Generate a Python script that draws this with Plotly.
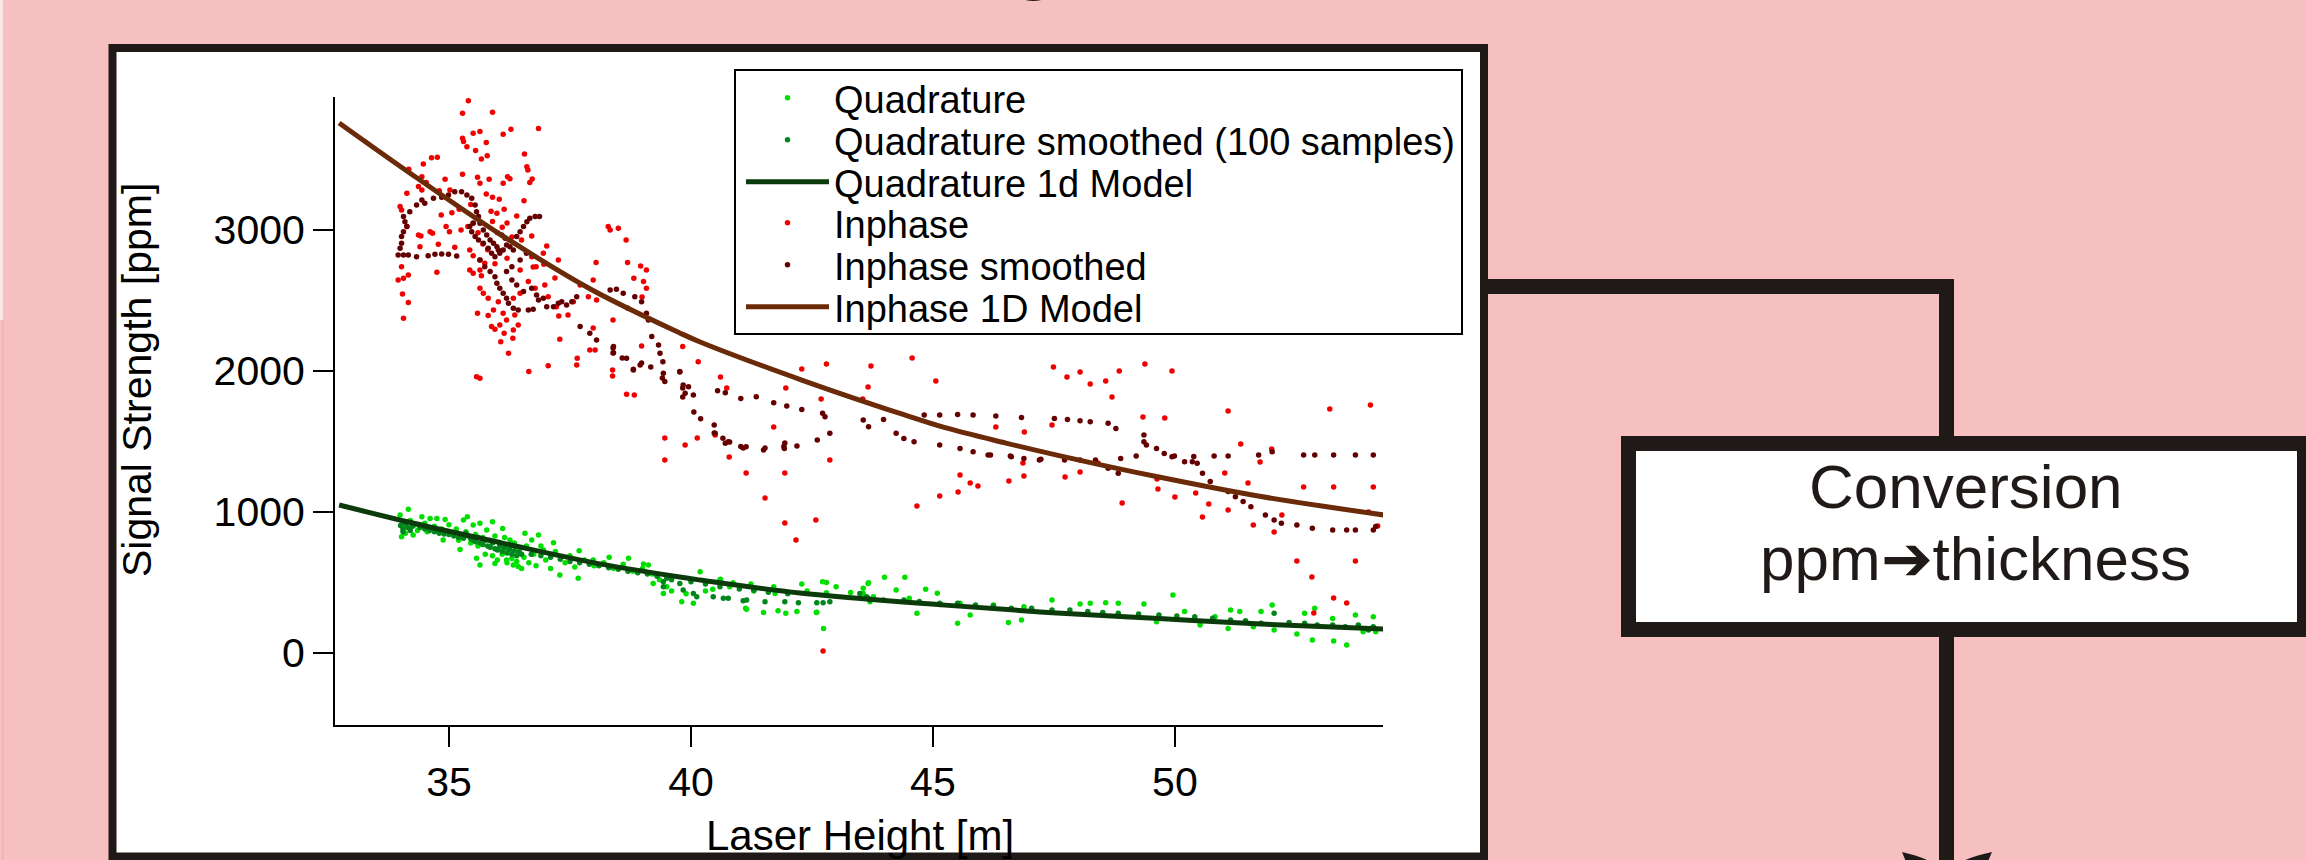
import plotly.graph_objects as go

W, H = 2306, 860

# ---------------- data ----------------
model_x = [32.73, 34.25, 36.10, 37.93, 39.77, 40.19, 42.29, 44.40, 45.25, 46.51, 47.56, 49.67, 51.78, 54.32]
inphase_model_y = [3759, 3390, 2960, 2580, 2270, 2206, 1936, 1690, 1598, 1489, 1404, 1248, 1110, 979]
quad_model_x = [32.73, 34.25, 36.10, 37.93, 39.77, 40.19, 42.25, 45.25, 47.56, 49.67, 51.78, 54.32]
quad_model_y = [1050, 922, 780, 645, 539, 518, 426, 340, 284, 245, 206, 170]

inphase_x = [35.40, 35.28, 35.90, 35.50, 35.64, 35.28, 35.30, 36.12, 36.28, 36.85, 35.77, 35.37, 35.55, 35.67,
             35.79, 36.56, 36.61, 36.63, 34.64, 34.76, 34.47, 34.17, 35.28, 35.59, 35.64, 35.83, 36.21, 36.26,
             36.72, 36.67, 36.12, 34.44, 34.53, 34.92, 34.37, 34.44, 34.13, 34.80, 35.02, 35.77, 35.90, 36.04,
             36.55, 33.99, 34.02, 34.84, 35.06, 35.21, 35.87, 35.99, 36.14, 36.40, 34.13, 34.37, 34.42, 34.61,
             34.66, 34.94, 35.01, 35.25, 35.39, 34.78, 34.40, 35.12, 35.43, 35.50, 36.71, 36.50, 37.02, 34.02,
             33.95, 34.06, 34.16, 34.75, 35.43, 35.50, 35.64, 35.67, 36.47, 36.80, 36.96, 37.26, 34.04, 34.16,
             35.64, 35.71, 35.81, 36.02, 36.33, 36.47, 36.64, 36.78, 36.98, 37.05, 34.06, 35.59, 35.81, 35.92,
             36.12, 36.19, 36.36, 36.43, 35.88, 35.95, 36.05, 36.14, 36.33, 36.32, 36.07, 36.23, 35.57, 35.64,
             36.65, 37.05, 37.29, 37.27, 37.22, 37.46, 37.57, 37.65, 37.64, 37.91, 38.02, 37.98, 38.04, 37.71,
             37.88, 38.05, 38.29, 38.33, 38.50, 38.66, 38.69, 38.96, 39.08, 38.82, 39.02, 39.08, 38.38, 38.38,
             38.67, 38.83, 38.98, 39.83, 40.15, 35.64, 35.74, 36.71, 36.95, 35.50, 35.60, 35.70, 35.80, 35.90,
             36.00, 36.10, 36.20, 36.30, 35.45, 35.95, 36.20, 37.98, 38.39, 38.69, 38.99, 36.74, 37.19,
             39.46, 39.46, 39.88, 40.13, 40.79, 41.14, 40.61, 40.74, 41.71, 41.96, 42.29, 41.53, 41.94, 41.94,
             42.17, 42.80, 43.72, 43.66, 44.57, 45.06, 42.69, 43.55, 42.87, 46.30, 47.49, 47.77, 48.04, 48.25,
             48.57, 48.85, 49.38, 49.94, 48.70, 51.10, 53.20, 54.04, 47.46, 49.34, 49.79, 51.36, 52.00, 46.89,
             46.86, 48.04, 47.73, 45.56, 40.50, 42.58, 42.73, 44.67, 45.14, 45.52, 45.77, 45.93, 46.57, 46.88,
             48.41, 48.91, 49.63, 49.65, 50.00, 50.43, 50.57, 50.70, 51.10, 51.03, 51.51, 51.62, 51.76, 52.05,
             52.21, 52.66, 52.52, 52.83, 52.87, 53.28, 53.28, 53.55, 53.73, 54.00, 54.10, 54.19]
inphase_y = [3917, 3828, 3835, 3686, 3698, 3650, 3627, 3679, 3714, 3719, 3620, 3591, 3563, 3504,
             3527, 3539, 3449, 3426, 3513, 3516, 3468, 3430, 3395, 3374, 3331, 3360, 3378, 3364,
             3362, 3336, 3331, 3378, 3336, 3360, 3308, 3284, 3260, 3279, 3284, 3256, 3232, 3218,
             3208, 3166, 3142, 3107, 3123, 3147, 3133, 3118, 3147, 3099, 3024, 2965, 2958, 2988,
             2977, 3024, 2988, 3000, 3024, 2899, 2882, 2877, 2858, 2818, 2958, 2929, 2887, 2740,
             2646, 2657, 2681, 2700, 2716, 2693, 2716, 2676, 2716, 2740, 2757, 2787, 2546, 2485,
             2587, 2551, 2516, 2492, 2516, 2551, 2634, 2587, 2610, 2527, 2374, 2409, 2393, 2433,
             2409, 2362, 2397, 2326, 2315, 2296, 2326, 2267, 2291, 2232, 2208, 2126, 1960, 1948,
             1996, 2038, 2225, 2390, 2456, 2397, 2492, 2090, 2043, 2149, 2149, 2646, 2769, 2610,
             2527, 2504, 3024, 3000, 3012, 2929, 2769, 2745, 2716, 2657, 2634, 2587, 2007, 1965,
             1835, 1830, 2178, 2173, 2066, 2787, 2764, 2811, 2835, 3050, 2980, 2900, 2860, 3060,
             2980, 3020, 2800, 2950, 3180, 2760, 3050, 2305, 2361, 2447, 2525, 2738, 2660,
             1525, 1369, 1475, 1525, 1390, 1277, 1957, 1879, 1603, 1879, 2014, 1099, 1277, 922,
             801, 2050, 2035, 1886, 2092, 1929, 1801, 1801, 1369, 1603, 2028, 1957, 1993, 1908,
             1929, 2000, 2050, 2000, 1816, 1716, 1730, 1759, 1617, 1674, 1667, 1482, 1447, 1567,
             1348, 1284, 1248, 1262, 1546, 943, 14, 1043, 1113, 1142, 1206, 1184, 1220, 1255,
             1348, 1064, 1234, 1163, 1106, 1135, 965, 1057, 1014, 1277, 1206, 908, 1355, 858,
             979, 1177, 652, 539, 284, 1177, 390, 355, 652, 1000, 1177, 901]

inphase_smooth_x = [34.06, 34.09, 34.13, 34.06, 34.02, 34.02, 33.99, 33.95, 34.06, 34.16, 34.33, 34.57, 34.71,
                    34.85, 34.99, 35.16, 34.19, 34.33, 34.44, 34.50, 34.68, 34.85, 34.99, 35.12, 35.26, 35.37,
                    35.47, 35.54, 35.57, 35.61, 35.64, 35.71, 35.78, 35.85, 35.92, 35.99, 36.02, 36.05, 36.12,
                    36.19, 36.16, 36.09, 36.26, 36.33, 35.95, 35.88, 35.81, 35.71, 35.61, 35.54, 35.47, 35.43,
                    35.50, 36.40, 36.47, 36.54, 36.61, 36.67, 36.78, 36.87, 35.64, 35.74, 35.85, 35.95, 35.99,
                    36.05, 36.12, 36.19, 36.23, 36.33, 36.43, 36.64, 36.74, 36.85, 36.95, 37.02, 37.16, 37.26,
                    37.33, 37.43, 37.54, 37.64, 36.30, 36.40, 36.54, 36.71, 36.81, 36.19, 36.30, 36.47, 36.60,
                    37.71, 37.91, 38.05, 38.33, 38.46, 38.60, 38.84, 38.98, 39.08, 39.12, 39.19, 38.40, 38.40,
                    38.67, 38.95, 39.33, 39.36, 39.42, 39.43, 39.46, 39.77, 39.84, 39.88, 39.95, 40.05, 38.81,
                    39.41, 39.77, 39.83, 39.83, 40.06, 40.20, 40.48, 40.48, 40.80, 41.08, 41.53, 41.94, 38.39,
                    38.39, 38.58, 38.81, 38.98, 39.17,
                    40.55, 40.71, 41.03, 41.35, 41.71, 41.98, 42.29, 42.72, 42.77, 40.50, 40.71, 41.14, 41.50,
                    41.93, 42.19, 42.61, 42.87, 43.56, 43.67, 43.98, 44.24, 44.40, 44.61, 44.82, 45.14, 45.51,
                    45.83, 46.30, 46.83, 45.56, 45.83, 46.19, 46.62, 46.88, 47.20, 47.51, 47.78, 48.04, 48.25,
                    48.62, 48.78, 47.72, 48.04, 48.36, 48.88, 49.20, 49.36, 49.41, 49.62, 49.78, 49.94, 50.36,
                    40.66, 40.77, 41.03, 41.92, 45.14, 46.14, 46.60, 47.23, 48.62, 48.83, 49.36, 49.99, 50.20,
                    50.39, 50.46, 50.57, 50.73, 50.81, 51.10, 51.10, 51.25, 51.41, 51.57, 51.73, 51.87, 52.01,
                    52.05, 52.20, 52.52, 52.66, 52.84, 52.89, 53.26, 53.28, 53.55, 53.73, 53.73, 54.10, 54.10,
                    54.15]
inphase_smooth_y = [3095, 3059, 3024, 2988, 2953, 2906, 2870, 2823, 2823, 2823, 2811, 2818, 2828,
                    2830, 2828, 2816, 3130, 3177, 3213, 3189, 3225, 3232, 3248, 3272, 3272, 3248,
                    3225, 3177, 3130, 3095, 3047, 3000, 2965, 2929, 2906, 2882, 2858, 2835, 2858,
                    2894, 2941, 2965, 2882, 2858, 2811, 2835, 2870, 2906, 2929, 2953, 2988, 3024,
                    3047, 2953, 2988, 3024, 3059, 3083, 3095, 3095, 2787, 2740, 2705, 2669, 2622,
                    2587, 2551, 2516, 2480, 2445, 2433, 2433, 2438, 2504, 2516, 2456, 2456, 2480,
                    2492, 2468, 2492, 2527, 2646, 2610, 2563, 2587, 2539, 2705, 2740, 2787, 2835,
                    2315, 2267, 2220, 2575, 2579, 2551, 2527, 2492, 2409, 2362, 2244, 2173, 2130,
                    2090, 2043, 2185, 2126, 2066, 1984, 1925, 1996, 1901, 1842, 1889, 1830, 2012,
                    1950, 1993, 1879, 1816, 1709, 1662, 1617, 1560, 1496, 1454, 1454, 1489, 2163,
                    2128, 2092, 2007, 2056, 2028,
                    1860, 1846, 1806, 1818, 1775, 1752, 1728, 1700, 1676, 1558, 1487, 1463, 1440,
                    1451, 1468, 1510, 1558, 1652, 1605, 1657, 1558, 1522, 1499, 1688, 1688, 1692,
                    1688, 1681, 1671, 1451, 1428, 1404, 1392, 1380, 1369, 1664, 1657, 1648, 1641,
                    1629, 1593, 1369, 1369, 1369, 1380, 1397, 1546, 1475, 1451, 1416, 1392, 1357,
                    1523, 1499, 1464, 1464, 1475, 1405, 1398, 1374, 1310, 1275, 1499, 1398, 1357,
                    1393, 1346, 1275, 1216, 1398, 1398, 1145, 1109, 1074, 1038, 1405, 979, 1428,
                    944, 920, 908, 1405, 885, 1405, 873, 1405, 873, 1405, 873, 873, 1405,
                    897]

quad_x = [40.19, 40.45, 40.61, 40.87, 41.13, 41.24, 41.50, 41.71, 41.96, 42.19, 42.29, 42.59, 42.72, 42.74,
          42.80, 43.56, 43.67, 43.77, 44.00, 44.24, 44.42, 44.51, 44.67, 44.85, 45.09, 45.51, 45.56, 45.77,
          46.25, 46.56, 46.83, 46.88, 47.46, 48.04, 48.25, 48.57, 48.83, 49.36, 49.62, 49.96, 50.20, 50.52,
          50.83, 51.10, 51.15, 51.34, 51.62, 51.78, 52.01, 52.05, 52.52, 52.68, 52.84, 52.89, 53.26, 53.28,
          53.55, 53.73, 53.89, 54.10, 54.15,
          33.99, 34.16, 34.02, 34.26, 34.44, 34.61, 34.75, 34.92, 34.88, 35.23, 35.30, 35.38, 35.50, 35.64,
          35.78, 35.90, 35.57, 35.64, 35.95, 36.11, 36.05, 36.19, 36.26, 36.33, 36.43, 36.57, 36.71, 36.85,
          36.95, 37.16, 37.29, 37.67, 37.69, 37.98, 38.31, 38.71, 39.02, 39.12, 39.22, 39.43, 39.81, 40.05,
          40.60, 41.15, 41.74, 42.60, 42.80, 43.56, 43.66, 43.70,
          34.05, 34.10, 34.20, 34.30, 34.35, 34.50, 34.55, 34.70, 34.85, 35.00, 35.05, 35.15, 35.20, 35.35,
          35.45, 35.55, 35.60, 35.70, 35.75, 35.85, 35.90, 35.95, 36.00, 36.05, 36.10, 36.15, 36.20, 36.25,
          36.30, 36.35, 36.40, 36.45, 36.50, 36.55, 36.60, 36.65, 36.75, 36.80, 36.90, 37.00, 37.10, 37.20,
          37.40, 37.50, 37.60, 37.80, 38.00, 38.20, 38.40, 38.60, 38.80, 39.00, 39.20, 39.35, 39.50, 39.60,
          39.90, 40.30, 40.80, 41.30, 41.80, 42.40, 43.00, 43.30]
quad_y = [577, 452, 523, 499, 317, 490, 287, 471, 282, 294, 490, 287, 506, 175,
          428, 459, 499, 400, 537, 447, 537, 388, 282, 452, 424, 211, 353, 270,
          341, 216, 235, 329, 376, 348, 353, 357, 353, 348, 223, 412, 294, 199,
          258, 175, 305, 294, 187, 294, 341, 164, 135, 282, 93, 317, 246, 86,
          57, 270, 152, 258, 152,
          979, 1019, 825, 837, 967, 955, 955, 948, 802, 735, 943, 967, 908, 920,
          873, 932, 672, 624, 636, 884, 754, 660, 802, 624, 613, 849, 802, 837,
          731, 783, 553, 530, 726, 660, 679, 672, 632, 624, 494, 423, 364, 353,
          518, 310, 423, 289, 501, 423, 494, 364,
          900, 850, 940, 910, 870, 920, 860, 900, 880, 910, 850, 880, 800, 860,
          780, 840, 760, 820, 700, 800, 690, 830, 660, 780, 700, 820, 640, 740,
          670, 780, 650, 720, 600, 680, 760, 640, 700, 620, 760, 660, 600, 720,
          640, 690, 610, 660, 620, 640, 600, 630, 580, 600, 560, 520, 470, 440,
          420, 440, 470, 440, 300, 440, 470, 430]

quad_smooth_x = [34.00, 34.05, 34.10, 34.15, 34.20, 34.25, 34.05, 34.40, 34.50, 34.60, 34.70, 34.80, 34.90,
                 35.00, 35.10, 35.20, 35.30, 35.35, 35.40, 35.45, 35.50, 35.55, 35.60, 35.65, 35.70, 35.75,
                 35.80, 35.85, 35.90, 35.95, 36.00, 36.05, 36.10, 36.15, 36.20, 36.25, 36.30, 36.35, 36.40,
                 36.45, 36.50, 36.70, 36.90, 37.10, 37.30, 37.50, 37.70, 37.90, 38.10, 38.30, 38.50, 38.70,
                 38.90, 39.10, 39.30, 39.50, 39.43, 39.43, 39.77, 39.84, 40.05, 40.12, 40.46, 40.67, 40.77,
                 41.08, 41.15, 41.53, 41.94, 42.22, 42.60, 42.73, 42.87, 43.49, 43.63, 43.70, 39.60, 40.00,
                 40.30, 40.60, 41.00, 41.30, 41.60, 42.00,
                 43.66, 44.40, 45.14, 45.88, 46.62, 47.46, 48.20, 48.83, 49.67, 50.41, 51.15, 51.78, 52.05,
                 52.68, 53.26, 53.79, 54.10, 43.98, 44.72, 45.51, 46.25, 47.04, 47.83, 48.51, 49.25, 50.04,
                 50.78, 51.46, 52.36, 52.94, 53.52, 54.00]
quad_smooth_y = [905, 880, 920, 890, 870, 900, 860, 890, 880, 870, 860, 850, 845,
                 840, 830, 820, 815, 850, 830, 810, 800, 790, 820, 780, 770, 800,
                 760, 750, 780, 740, 730, 760, 720, 745, 710, 735, 700, 725, 690,
                 715, 700, 700, 690, 680, 665, 650, 640, 630, 620, 605, 595, 580,
                 570, 560, 545, 530, 506, 471, 494, 447, 423, 400, 400, 388, 388,
                 371, 376, 364, 364, 357, 357, 357, 364, 423, 400, 376, 520, 505,
                 490, 470, 455, 445, 432, 420,
                 388, 376, 353, 341, 317, 305, 294, 282, 270, 258, 235, 211, 282,
                 211, 199, 199, 187, 376, 365, 353, 334, 317, 305, 287, 277, 263,
                 247, 230, 216, 199, 187, 164]

legend_names = ["Quadrature", "Quadrature smoothed (100 samples)", "Quadrature 1d Model",
                "Inphase", "Inphase smoothed", "Inphase 1D Model"]
x_ticks = [35, 40, 45, 50]
y_ticks = [0, 1000, 2000, 3000]

# ---------------- styling ----------------
FONT = "Liberation Sans, Arial, sans-serif"
PINK = "#F6C0C0"
INK = "#1F1A17"
C_QUAD = "#00E000"
C_QUAD_S = "#00861A"
C_QUAD_M = "#0B3A0B"
C_IN = "#F00000"
C_IN_S = "#650000"
C_IN_M = "#6B2A08"


def px(X):
    return X / W


def py(Y):
    return 1 - Y / H


fig = go.Figure()
legend_ids = ["legend", "legend2", "legend3", "legend4", "legend5", "legend6"]

fig.add_trace(go.Scatter(x=quad_x, y=quad_y, mode="markers", name=legend_names[0], legend=legend_ids[0],
                         marker=dict(color=C_QUAD, size=5.5)))
fig.add_trace(go.Scatter(x=quad_smooth_x, y=quad_smooth_y, mode="markers", name=legend_names[1],
                         legend=legend_ids[1], marker=dict(color=C_QUAD_S, size=5.5)))
fig.add_trace(go.Scatter(x=quad_model_x, y=quad_model_y, mode="lines", name=legend_names[2], legend=legend_ids[2],
                         line=dict(color=C_QUAD_M, width=5, shape="spline", smoothing=1.0)))
fig.add_trace(go.Scatter(x=inphase_x, y=inphase_y, mode="markers", name=legend_names[3], legend=legend_ids[3],
                         marker=dict(color=C_IN, size=5.5)))
fig.add_trace(go.Scatter(x=inphase_smooth_x, y=inphase_smooth_y, mode="markers", name=legend_names[4],
                         legend=legend_ids[4], marker=dict(color=C_IN_S, size=5.5)))
fig.add_trace(go.Scatter(x=model_x, y=inphase_model_y, mode="lines", name=legend_names[5], legend=legend_ids[5],
                         line=dict(color=C_IN_M, width=5, shape="spline", smoothing=1.0)))

row_centers = [98, 140, 182, 223, 265, 307]
legends = {}
for lid, rc in zip(legend_ids, row_centers):
    legends[lid] = dict(x=px(741), y=py(rc), xanchor="left", yanchor="middle",
                        bgcolor="rgba(0,0,0,0)", borderwidth=0, itemwidth=83,
                        font=dict(family=FONT, size=38, color="black"))

shapes = [
    # white frame around the chart
    dict(type="rect", xref="paper", yref="paper", x0=px(112.5), x1=px(1484), y0=py(48), y1=py(856.5),
         line=dict(color=INK, width=8), fillcolor="white", layer="below"),
    # legend box
    dict(type="rect", xref="paper", yref="paper", x0=px(735), x1=px(1462), y0=py(70), y1=py(334),
         line=dict(color="black", width=2), fillcolor="white", layer="above"),
    # flowchart connectors
    dict(type="rect", xref="paper", yref="paper", x0=px(1484), x1=px(1954), y0=py(279), y1=py(294),
         line=dict(width=0), fillcolor=INK, layer="below"),
    dict(type="rect", xref="paper", yref="paper", x0=px(1939), x1=px(1954), y0=py(279), y1=py(440),
         line=dict(width=0), fillcolor=INK, layer="below"),
    dict(type="rect", xref="paper", yref="paper", x0=px(1939), x1=px(1954), y0=py(630), y1=py(862),
         line=dict(width=0), fillcolor=INK, layer="below"),
    # conversion box
    dict(type="rect", xref="paper", yref="paper", x0=px(1621), x1=px(2320), y0=py(436), y1=py(637),
         line=dict(width=0), fillcolor=INK, layer="below"),
    dict(type="rect", xref="paper", yref="paper", x0=px(1636), x1=px(2297), y0=py(451), y1=py(622),
         line=dict(width=0), fillcolor="white", layer="below"),
    # arrow head at the bottom
    dict(type="path", xref="paper", yref="paper",
         path="M{},{} Q{},{} {},{} Q{},{} {},{} L{},{} Z".format(
             px(1902), py(852), px(1930), py(858), px(1946), py(872), px(1962), py(858), px(1992), py(852),
             px(1946), py(960)),
         line=dict(width=0), fillcolor=INK, layer="below"),
    # faint strip at the far left edge
    dict(type="rect", xref="paper", yref="paper", x0=0, x1=px(3), y0=py(0), y1=py(320),
         line=dict(width=0), fillcolor="#FBE6E6", layer="below"),
    dict(type="line", xref="paper", yref="paper", x0=px(3), x1=px(3), y0=py(320), y1=py(860),
         line=dict(color="#E3A9A9", width=1), layer="below"),
]

annotations = [
    dict(text="Laser Height [m]", xref="paper", yref="paper", x=px(860), y=py(835), xanchor="center",
         yanchor="middle", showarrow=False, font=dict(family=FONT, size=42, color="black")),
    dict(text="Signal Strength [ppm]", xref="paper", yref="paper", x=px(137), y=py(380), xanchor="center",
         yanchor="middle", textangle=-90, showarrow=False, font=dict(family=FONT, size=41, color="black")),
    dict(text="Conversion", xref="paper", yref="paper", x=px(1966), y=py(486),
         xanchor="center", yanchor="middle", showarrow=False,
         font=dict(family=FONT, size=62, color=INK)),
    dict(text="ppm\u2794thickness", xref="paper", yref="paper", x=px(1975), y=py(558),
         xanchor="center", yanchor="middle", showarrow=False,
         font=dict(family=FONT, size=62, color=INK)),
    # descenders of the cut-off heading at the top edge
    dict(text="<b>g</b>", xref="paper", yref="paper", x=px(1034), y=py(-42), xanchor="center", yanchor="middle",
         showarrow=False, font=dict(family=FONT, size=76, color=INK)),
    dict(text="<b>p</b>", xref="paper", yref="paper", x=px(1592), y=py(-45), xanchor="center", yanchor="middle",
         showarrow=False, font=dict(family=FONT, size=76, color=INK)),
]

axis_common = dict(showline=True, linecolor="black", linewidth=2, ticks="outside", ticklen=20, tickwidth=2,
                   tickcolor="black", showgrid=False, zeroline=False, automargin=False,
                   tickfont=dict(family=FONT, size=41, color="black"))

fig.update_layout(
    width=W, height=H, autosize=False,
    margin=dict(l=0, r=0, t=0, b=0, pad=0),
    paper_bgcolor=PINK, plot_bgcolor="rgba(0,0,0,0)",
    xaxis=dict(domain=[px(335), px(1383)], range=[32.645, 54.30], tickvals=x_ticks,
               ticklabelstandoff=0, **axis_common),
    yaxis=dict(domain=[py(725), py(97)], range=[-510, 3943], tickvals=y_ticks,
               ticklabelstandoff=0, **axis_common),
    shapes=shapes,
    annotations=annotations,
    showlegend=True,
    **legends,
)

fig.write_html("out.html", config={"displayModeBar": False},
               post_script="document.body.style.margin='0';document.body.style.overflow='hidden';")
